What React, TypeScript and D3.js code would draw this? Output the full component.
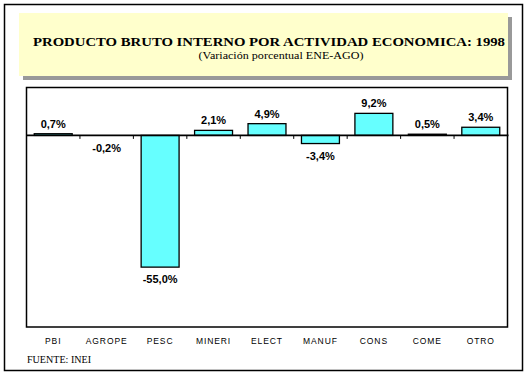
import React from "react";
import * as d3 from "d3";

const categories = ["PBI", "AGROPE", "PESC", "MINERI", "ELECT", "MANUF", "CONS", "COME", "OTRO"];
const values = [0.7, -0.2, -55.0, 2.1, 4.9, -3.4, 9.2, 0.5, 3.4];
const valueLabels = ["0,7%", "-0,2%", "-55,0%", "2,1%", "4,9%", "-3,4%", "9,2%", "0,5%", "3,4%"];
const titleText = "PRODUCTO BRUTO INTERNO POR ACTIVIDAD ECONOMICA: 1998";
const subtitleText = "(Variación porcentual ENE-AGO)";
const sourceText = "FUENTE: INEI";
const yDomain = [-80, 20];

export default function App() {
  const W = 527, H = 375;
  const plot = { left: 26.5, right: 507.5, top: 87.5, bottom: 327 };
  const x = d3.scaleBand<string>().domain(categories).range([plot.left, plot.right]).padding(0);
  const y = d3.scaleLinear().domain(yDomain).range([plot.bottom, plot.top]);
  const bw = x.bandwidth() * 0.71;
  const y0 = y(0);
  const boundaries = categories.map((c) => (x(c) as number)).concat([plot.right]);

  return (
    <svg width={W} height={H} style={{ position: "absolute", left: 0, top: 0, background: "#fff" }}>
      <rect x={0} y={0} width={W} height={H} fill="#fff" />
      <rect x={4.5} y={4.5} width={518} height={366} fill="none" stroke="#000" strokeWidth={1.5} />
      {/* title box with shadow */}
      <rect x={23} y={17} width={489} height={63} fill="#999999" />
      <rect x={19} y={13} width={489} height={63} fill="#FFFFCC" />
      <text x={269} y={46} textAnchor="middle" fontFamily="'Liberation Serif', 'Times New Roman', serif" fontWeight="bold" fontSize={13} textLength={472} lengthAdjust="spacingAndGlyphs">{titleText}</text>
      <text x={281} y={58.5} textAnchor="middle" fontFamily="'Liberation Serif', 'Times New Roman', serif" fontSize={11} textLength={165} lengthAdjust="spacingAndGlyphs">{subtitleText}</text>
      {/* plot area */}
      <rect x={plot.left} y={plot.top} width={plot.right - plot.left} height={plot.bottom - plot.top} fill="#fff" stroke="#000" strokeWidth={1.5} />
      {categories.map((c, i) => {
        const v = values[i];
        const cx = (x(c) as number) + x.bandwidth() / 2;
        const top = Math.min(y(v), y0);
        const h = Math.abs(y(v) - y0);
        return (
          <rect key={c} x={cx - bw / 2} y={top} width={bw} height={h} fill="#66FFFF" stroke="#000" strokeWidth={h < 1 && v < 0 ? 0 : 1.3} />
        );
      })}
      <line x1={plot.left} x2={plot.right + 1} y1={y0} y2={y0} stroke="#000" strokeWidth={1.6} />
      {boundaries.map((b, i) => (
        <line key={i} x1={b} x2={b} y1={y0} y2={y0 + 3.5} stroke="#000" strokeWidth={1} />
      ))}
      {categories.map((c, i) => {
        const v = values[i];
        const cx = (x(c) as number) + x.bandwidth() / 2;
        const ly = v >= 0 ? y(v) - 6 : y(v) + 16;
        return (
          <text key={c} x={cx} y={ly} textAnchor="middle" fontFamily="'Liberation Sans', Arial, sans-serif" fontWeight="bold" fontSize={11}>{valueLabels[i]}</text>
        );
      })}
      {categories.map((c) => {
        const cx = (x(c) as number) + x.bandwidth() / 2;
        return (
          <text key={c} x={cx} y={343.5} textAnchor="middle" fontFamily="'Liberation Sans', Arial, sans-serif" fontSize={8.5} letterSpacing={0.9}>{c}</text>
        );
      })}
      <text x={27} y={363} fontFamily="'Liberation Serif', 'Times New Roman', serif" fontSize={11} textLength={64} lengthAdjust="spacingAndGlyphs">{sourceText}</text>
    </svg>
  );
}
